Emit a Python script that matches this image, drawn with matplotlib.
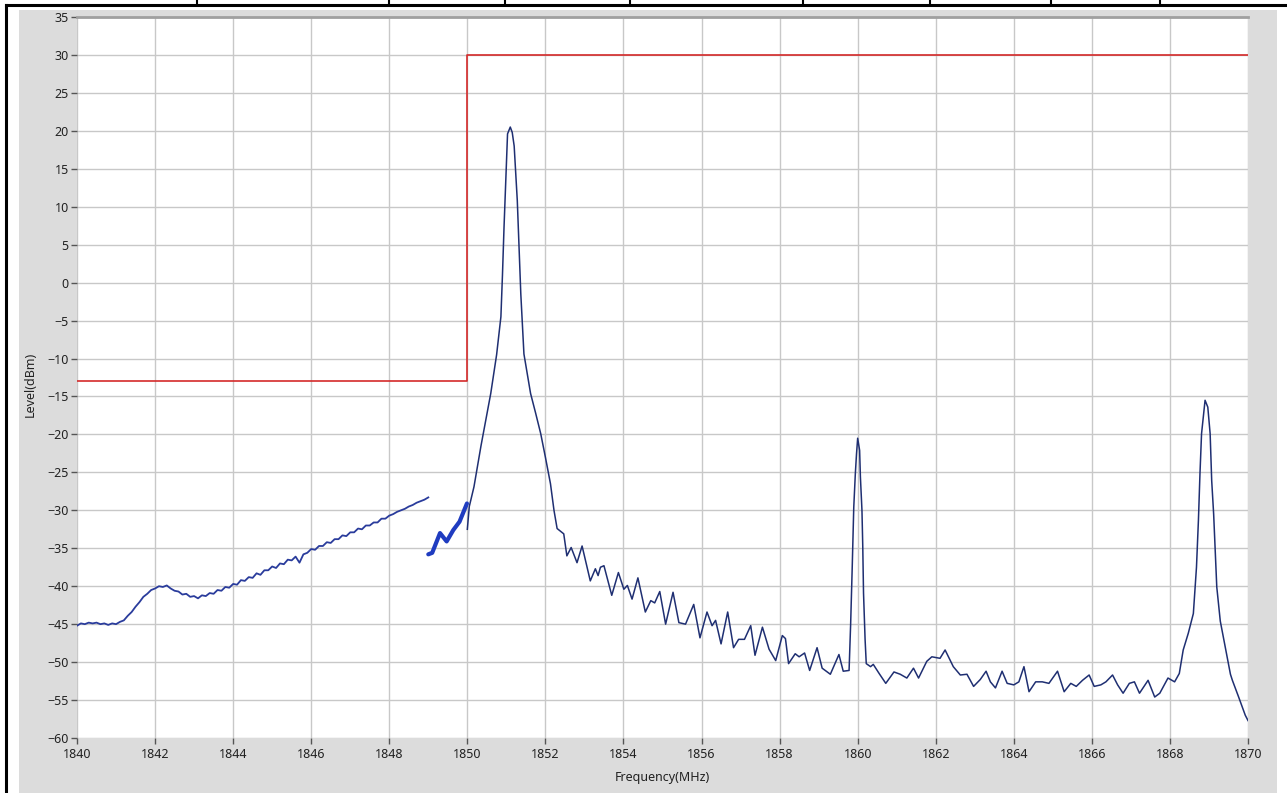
import numpy as np
import matplotlib
matplotlib.use("Agg")
import matplotlib.pyplot as plt
from matplotlib.patches import Rectangle
from matplotlib.lines import Line2D

plt.rcParams['font.family'] = ['Noto Sans', 'DejaVu Sans']

# ---------------- data ----------------
x_ticks = list(range(1840, 1871, 2))
y_ticks = list(range(-60, 36, 5))

limit_freq = [1840, 1850, 1850, 1870]
limit_level = [-13, -13, 30, 30]

# sweep 1 (1840 - 1849 MHz, 0.1 MHz steps)
seg1_level = [
    -45.2, -44.9, -45.0, -44.8, -44.9, -44.8, -45.0, -44.9, -45.1, -44.9,
    -45.0, -44.7, -44.5, -43.9, -43.4, -42.7, -42.1, -41.4, -41.0, -40.5,
    -40.3, -40.0, -40.1, -39.9, -40.3, -40.6, -40.7, -41.1, -41.0, -41.4,
    -41.3, -41.6, -41.2, -41.3, -40.9, -41.0, -40.5, -40.6, -40.1, -40.2,
    -39.7, -39.8, -39.2, -39.3, -38.8, -38.9, -38.3, -38.5, -37.9, -37.9,
    -37.4, -37.6, -37.0, -37.1, -36.5, -36.6, -36.1, -36.9, -35.8, -35.6,
    -35.1, -35.2, -34.7, -34.7, -34.2, -34.3, -33.8, -33.8, -33.3, -33.4,
    -32.9, -32.9, -32.4, -32.5, -32.0, -32.0, -31.6, -31.6, -31.1, -31.1,
    -30.7, -30.5, -30.2, -30.0, -29.8, -29.5, -29.3, -29.0, -28.8, -28.6,
    -28.3,
]
seg1_freq = np.linspace(1840.0, 1849.0, len(seg1_level))

# sweep 2 (1849 - 1850 MHz)
seg2_freq = [1849.0, 1849.1, 1849.3, 1849.47, 1849.64, 1849.8, 1849.99]
seg2_level = [-35.8, -35.6, -33.0, -34.1, -32.6, -31.5, -29.1]

# sweep 3 (1850 - 1870 MHz)
seg3_freq = [
    1850.00, 1850.05, 1850.17, 1850.35, 1850.60, 1850.75, 1850.86, 1850.90,
    1850.94, 1850.99, 1851.03, 1851.10, 1851.15, 1851.20, 1851.25, 1851.28,
    1851.33, 1851.37, 1851.45, 1851.62, 1851.75, 1851.88, 1852.00, 1852.13,
    1852.22, 1852.30, 1852.42, 1852.47, 1852.55, 1852.66, 1852.81, 1852.94,
    1853.15, 1853.28, 1853.35, 1853.41, 1853.50, 1853.70, 1853.87, 1854.01,
    1854.10, 1854.22, 1854.37, 1854.56, 1854.70, 1854.80, 1854.93, 1855.08,
    1855.27, 1855.42, 1855.59, 1855.80, 1855.96, 1856.14, 1856.27, 1856.36,
    1856.50, 1856.67, 1856.82, 1856.95, 1857.10, 1857.26, 1857.37, 1857.56,
    1857.73, 1857.90, 1858.07, 1858.15, 1858.23, 1858.40, 1858.50, 1858.64,
    1858.77, 1858.96, 1859.09, 1859.30, 1859.52, 1859.63, 1859.78, 1859.82,
    1859.86, 1859.90, 1859.94, 1859.97, 1860.00, 1860.05, 1860.07, 1860.11,
    1860.13, 1860.15, 1860.19, 1860.22, 1860.33, 1860.40, 1860.55, 1860.72,
    1860.93, 1861.09, 1861.26, 1861.43, 1861.56, 1861.77, 1861.90, 1862.11,
    1862.24, 1862.45, 1862.63, 1862.80, 1862.97, 1863.14, 1863.29, 1863.40,
    1863.53, 1863.70, 1863.83, 1864.00, 1864.13, 1864.26, 1864.39, 1864.56,
    1864.73, 1864.90, 1865.12, 1865.29, 1865.46, 1865.60, 1865.76, 1865.93,
    1866.06, 1866.23, 1866.36, 1866.53, 1866.66, 1866.80, 1866.96, 1867.09,
    1867.22, 1867.44, 1867.61, 1867.74, 1867.95, 1868.12, 1868.24, 1868.34,
    1868.47, 1868.60, 1868.68, 1868.73, 1868.77, 1868.81, 1868.90, 1868.97,
    1869.03, 1869.07, 1869.12, 1869.20, 1869.29, 1869.42, 1869.55, 1869.60,
    1869.76, 1869.93, 1870.00,
]
seg3_level = [
    -32.5, -29.5, -26.9, -21.5, -14.6, -9.5, -4.5, 1.0,
    7.3, 14.0, 19.6, 20.5, 19.8, 18.0, 13.5, 10.8,
    4.0, -1.5, -9.4, -14.6, -17.2, -19.9, -23.0, -26.5,
    -30.0, -32.4, -32.9, -33.1, -36.0, -34.9, -36.9, -34.7,
    -39.3, -37.7, -38.6, -37.5, -37.3, -41.2, -38.2, -40.4,
    -39.9, -41.7, -38.9, -43.4, -41.9, -42.2, -40.7, -45.0,
    -40.8, -44.8, -45.0, -42.4, -46.8, -43.4, -45.2, -44.5,
    -47.6, -43.4, -48.1, -47.0, -47.0, -45.2, -49.1, -45.4,
    -48.3, -49.8, -46.5, -46.9, -50.2, -48.9, -49.3, -48.8,
    -51.1, -48.1, -50.8, -51.6, -49.0, -51.2, -51.1, -45.0,
    -37.6, -29.6, -25.2, -22.6, -20.5, -22.1, -25.6, -30.0,
    -34.6, -40.9, -47.0, -50.2, -50.6, -50.3, -51.5, -52.8,
    -51.3, -51.6, -52.1, -50.8, -52.1, -49.9, -49.3, -49.5,
    -48.4, -50.6, -51.7, -51.6, -53.2, -52.3, -51.2, -52.6,
    -53.4, -51.2, -52.8, -53.0, -52.6, -50.6, -53.9, -52.6,
    -52.6, -52.8, -51.2, -53.9, -52.8, -53.2, -52.4, -51.7,
    -53.2, -53.0, -52.6, -51.7, -53.0, -54.1, -52.8, -52.6,
    -54.1, -52.4, -54.6, -54.1, -52.1, -52.6, -51.5, -48.4,
    -46.2, -43.6, -37.5, -31.3, -25.1, -19.9, -15.5, -16.4,
    -19.9, -26.1, -30.5, -40.1, -44.6, -48.1, -51.6, -52.4,
    -54.6, -57.0, -57.7,
]

# ---------------- figure ----------------
W, H = 1287, 793
fig = plt.figure(figsize=(W / 100, H / 100), dpi=100)
fig.patch.set_facecolor('white')

def fx(px):
    return px / W

def fy(py):
    return 1 - py / H

# grey panel
fig.patches.append(Rectangle((fx(19), 0), fx(1277) - fx(19), fy(10),
                             transform=fig.transFigure, facecolor='#dcdcdc',
                             edgecolor='none', zorder=-10))
# black table frame
fig.lines.append(Line2D([fx(6), 1], [fy(5), fy(5)], transform=fig.transFigure,
                        color='black', lw=2.2, zorder=-5))
fig.lines.append(Line2D([fx(6), fx(6)], [0, fy(5)], transform=fig.transFigure,
                        color='black', lw=2.2, zorder=-5))
for sx in [197, 389, 505, 630, 803, 930, 1051, 1160]:
    fig.lines.append(Line2D([fx(sx), fx(sx)], [fy(5), 1],
                            transform=fig.transFigure, color='black', lw=1.5,
                            zorder=-5))

ax = fig.add_axes([fx(77), fy(738), fx(1248) - fx(77), fy(17) - fy(738)])
ax.set_zorder(5)
ax.set_facecolor('white')

ax.plot(limit_freq, limit_level, color='#d42a2a', lw=1.2, zorder=3)
ax.plot(seg1_freq, seg1_level, color='#2a3c9c', lw=1.3, zorder=4)
ax.plot(seg2_freq, seg2_level, color='#1f3cc0', lw=3.0, zorder=4,
        solid_capstyle='round', solid_joinstyle='round')
ax.plot(seg3_freq, seg3_level, color='#1f2f72', lw=1.1, zorder=4)

ax.set_xlim(1840, 1870)
ax.set_ylim(-60, 35)
ax.set_xticks(x_ticks)
ax.set_yticks(y_ticks)
ax.grid(True, color='#c8c8c8', lw=1.0)
ax.set_axisbelow(True)

ax.tick_params(axis='both', direction='out', length=4, width=1,
               color='#555555', labelsize=9, labelcolor='#222222')
ax.tick_params(axis='x', pad=3)
ax.tick_params(axis='y', pad=2)

for side in ['right', 'bottom', 'left']:
    ax.spines[side].set_visible(False)
ax.spines['top'].set_color('#a0a0a0')
ax.spines['top'].set_linewidth(2.0)

ax.set_xlabel('Frequency(MHz)', fontsize=9, color='#222222')
ax.set_ylabel('Level(dBm)', fontsize=9, color='#222222')
ax.xaxis.set_label_coords(0.5, -0.046)
ax.yaxis.set_label_coords(-0.034, 0.49)

fig.savefig('out.png', dpi=100, facecolor=fig.get_facecolor())
